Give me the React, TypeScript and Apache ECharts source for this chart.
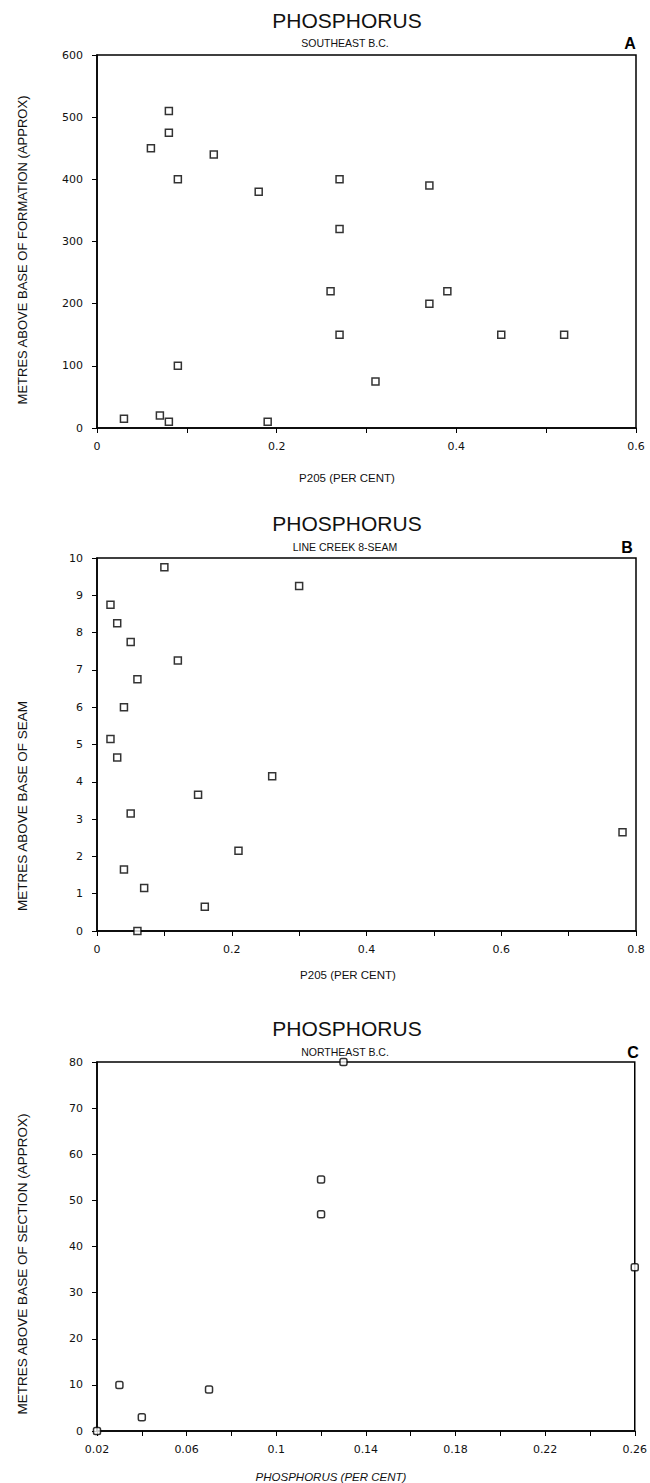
import React, { useEffect, useRef } from "react";
import * as echarts from "echarts";

// Panel A – Southeast B.C.
const A_P2O5 = [0.08, 0.08, 0.06, 0.13, 0.09, 0.18, 0.27, 0.37, 0.27, 0.26, 0.37, 0.39, 0.27, 0.45, 0.52, 0.09, 0.31, 0.03, 0.07, 0.08, 0.19];
const A_METRES = [510, 475, 450, 440, 400, 380, 400, 390, 320, 220, 200, 220, 150, 150, 150, 100, 75, 15, 20, 10, 10];

// Panel B – Line Creek 8-seam
const B_P2O5 = [0.10, 0.30, 0.02, 0.03, 0.05, 0.12, 0.06, 0.04, 0.02, 0.03, 0.26, 0.15, 0.05, 0.21, 0.78, 0.04, 0.07, 0.16, 0.06];
const B_METRES = [9.75, 9.25, 8.75, 8.25, 7.75, 7.25, 6.75, 6.0, 5.15, 4.65, 4.15, 3.65, 3.15, 2.15, 2.65, 1.65, 1.15, 0.65, 0];

// Panel C – Northeast B.C.
const C_PHOS = [0.13, 0.12, 0.12, 0.26, 0.03, 0.07, 0.04, 0.02];
const C_METRES = [80, 54.5, 47, 35.5, 10, 9, 3, 0];

const TITLES = ["PHOSPHORUS", "PHOSPHORUS", "PHOSPHORUS"];
const SUBTITLES = ["SOUTHEAST B.C.", "LINE CREEK 8-SEAM", "NORTHEAST B.C."];
const LETTERS = ["A", "B", "C"];
const X_NAMES = ["P205 (PER CENT)", "P205 (PER CENT)", "PHOSPHORUS (PER CENT)"];
const Y_NAMES = [
  "METRES ABOVE BASE OF FORMATION (APPROX)",
  "METRES ABOVE BASE OF SEAM",
  "METRES ABOVE BASE OF SECTION (APPROX)",
];

const zip = (xs: number[], ys: number[]) => xs.map((x, i) => [x, ys[i]]);

export default function App() {
  const ref = useRef<HTMLDivElement>(null);

  useEffect(() => {
    if (!ref.current) return;
    const chart = echarts.init(ref.current, undefined, { renderer: "svg" });

    const LEFT = 97;
    const WIDTH = 539;
    const grids = [
      { left: LEFT, top: 55, width: WIDTH, height: 373 },
      { left: LEFT, top: 558, width: WIDTH, height: 373 },
      { left: LEFT, top: 1062, width: WIDTH, height: 369 },
    ];
    const labelFont = "'DejaVu Sans', sans-serif";
    const txtFont = "'Liberation Sans', Arial, sans-serif";

    const axisCommon = {
      axisLine: { show: true, onZero: false, lineStyle: { color: "#000", width: 1.5 } },
      axisTick: { show: true, length: 5, lineStyle: { color: "#000", width: 1 } },
      splitLine: { show: false },
    };
    const xLabel = (fmt: (v: number) => string) => ({
      color: "#111",
      fontSize: 11,
      fontFamily: labelFont,
      margin: 13,
      formatter: fmt,
    });
    const yLabel = {
      color: "#111",
      fontSize: 11,
      fontFamily: labelFont,
      margin: 14,
    };

    const everyOther = (min: number, step: number) => (v: number) => {
      const k = Math.round((v - min) / step);
      return k % 2 === 0 ? String(+v.toFixed(2)) : "";
    };

    const markerStyle = { color: "#fff", borderColor: "#000", borderWidth: 1.5 };

    const graphics: any[] = [];
    const titleY = [20, 523, 1028];
    const subY = [43, 547, 1052];
    const letterX = [630, 627, 633];
    const xNameX = [347, 348, 331];
    const xNameY = [478, 975, 1477];
    const yNameY = [250, 806, 1264];
    const yNameSize = [13, 13.5, 13.5];
    for (let i = 0; i < 3; i++) {
      graphics.push({
        type: "text",
        x: 347,
        y: titleY[i],
        style: { text: TITLES[i], fontSize: 21, fontFamily: txtFont, fill: "#111", align: "center", verticalAlign: "middle" },
      });
      graphics.push({
        type: "text",
        x: 345,
        y: subY[i],
        style: { text: SUBTITLES[i], fontSize: 10.5, fontFamily: txtFont, fill: "#111", align: "center", verticalAlign: "middle" },
      });
      graphics.push({
        type: "text",
        x: letterX[i],
        y: subY[i],
        style: { text: LETTERS[i], fontSize: 16, fontWeight: "bold", fontFamily: txtFont, fill: "#000", align: "center", verticalAlign: "middle" },
      });
      graphics.push({
        type: "text",
        x: xNameX[i],
        y: xNameY[i],
        style: {
          text: X_NAMES[i],
          fontSize: 11.5,
          fontStyle: i === 2 ? "italic" : "normal",
          fontFamily: txtFont,
          fill: "#111",
          align: "center",
          verticalAlign: "middle",
        },
      });
      graphics.push({
        type: "text",
        x: 22,
        y: yNameY[i],
        rotation: Math.PI / 2,
        style: { text: Y_NAMES[i], fontSize: yNameSize[i], fontFamily: txtFont, fill: "#111", align: "center", verticalAlign: "middle" },
      });
    }

    chart.setOption({
      animation: false,
      backgroundColor: "#fff",
      grid: grids.map((g) => ({ ...g, show: true, borderColor: "#000", borderWidth: 1.5, backgroundColor: "transparent" })),
      xAxis: [
        { type: "value", gridIndex: 0, min: 0, max: 0.6, interval: 0.1, ...axisCommon, axisLabel: xLabel(everyOther(0, 0.1)) },
        { type: "value", gridIndex: 1, min: 0, max: 0.8, interval: 0.1, ...axisCommon, axisLabel: xLabel(everyOther(0, 0.1)) },
        { type: "value", gridIndex: 2, min: 0.02, max: 0.26, interval: 0.02, ...axisCommon, axisLabel: xLabel(everyOther(0.02, 0.02)) },
      ],
      yAxis: [
        { type: "value", gridIndex: 0, min: 0, max: 600, interval: 100, ...axisCommon, axisLabel: yLabel },
        { type: "value", gridIndex: 1, min: 0, max: 10, interval: 1, ...axisCommon, axisLabel: yLabel },
        { type: "value", gridIndex: 2, min: 0, max: 80, interval: 10, ...axisCommon, axisLabel: yLabel },
      ],
      series: [
        { type: "scatter", xAxisIndex: 0, yAxisIndex: 0, data: zip(A_P2O5, A_METRES), symbol: "rect", symbolSize: 7, itemStyle: markerStyle, clip: false },
        { type: "scatter", xAxisIndex: 1, yAxisIndex: 1, data: zip(B_P2O5, B_METRES), symbol: "rect", symbolSize: 7, itemStyle: markerStyle, clip: false },
        { type: "scatter", xAxisIndex: 2, yAxisIndex: 2, data: zip(C_PHOS, C_METRES), symbol: "roundRect", symbolSize: 7, itemStyle: markerStyle, clip: false },
      ],
      graphic: graphics,
    });

    return () => chart.dispose();
  }, []);

  return <div ref={ref} style={{ position: "absolute", left: 0, top: 0, width: 650, height: 1483 }} />;
}
